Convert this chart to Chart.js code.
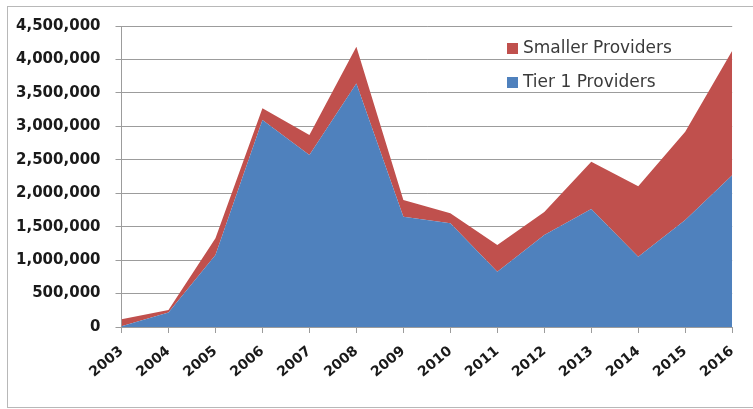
<!DOCTYPE html>
<html>
<head>
<meta charset="utf-8">
<script src="https://cdn.jsdelivr.net/npm/chart.js@4/dist/chart.umd.min.js"></script>
<style>
  html, body { margin: 0; padding: 0; background: #ffffff; }
  #wrap { position: relative; width: 753px; height: 409px; overflow: hidden; }
  #frame {
    position: absolute; left: 7px; top: 6px; width: 760px; height: 400px;
    border: 1px solid #b8b8b8; border-right: none; box-sizing: content-box;
  }
  #c { position: absolute; left: 0; top: 0; }
</style>
</head>
<body>
<div id="wrap">
  <div id="frame"></div>
  <canvas id="c" width="753" height="409"></canvas>
</div>
<script>
// Yearly figures by provider type
const years = ['2003','2004','2005','2006','2007','2008','2009','2010','2011','2012','2013','2014','2015','2016'];
const tier1Providers   = [10000, 215000, 1075000, 3095000, 2570000, 3640000, 1650000, 1550000, 825000, 1375000, 1765000, 1050000, 1600000, 2270000];
const smallerProviders = [105000, 40000, 250000, 175000, 300000, 550000, 250000, 150000, 400000, 345000, 705000, 1055000, 1320000, 1860000];
const yTickValues = [0, 500000, 1000000, 1500000, 2000000, 2500000, 3000000, 3500000, 4000000, 4500000];

const BLUE = '#4F81BD';
const RED = '#C0504D';
const GRID = '#9c9c9c';

// Legend drawn inside the plot, top stacked series first
const insideLegend = {
  id: 'insideLegend',
  afterDraw(chart) {
    const ctx = chart.ctx;
    const items = chart.data.datasets.slice().reverse();
    ctx.save();
    ctx.font = '17px "DejaVu Sans"';
    ctx.textBaseline = 'middle';
    ctx.textAlign = 'left';
    items.forEach((ds, i) => {
      const y = 48 + i * 34;
      ctx.fillStyle = ds.backgroundColor;
      ctx.fillRect(507, y - 5, 11, 11);
      ctx.fillStyle = '#3a3a3a';
      ctx.fillText(ds.label, 523, y + 1);
    });
    ctx.restore();
  }
};

new Chart(document.getElementById('c'), {
  type: 'line',
  data: {
    labels: years,
    datasets: [
      {
        label: 'Tier 1 Providers',
        data: tier1Providers,
        backgroundColor: BLUE,
        borderColor: BLUE,
        borderWidth: 0,
        pointRadius: 0,
        fill: 'origin',
        tension: 0
      },
      {
        label: 'Smaller Providers',
        data: smallerProviders,
        backgroundColor: RED,
        borderColor: RED,
        borderWidth: 0,
        pointRadius: 0,
        fill: '-1',
        tension: 0
      }
    ]
  },
  options: {
    responsive: false,
    devicePixelRatio: 1,
    animation: false,
    events: [],
    layout: { padding: { left: 0, top: 26, right: 20.5, bottom: 0 } },
    plugins: {
      legend: { display: false },
      tooltip: { enabled: false },
      filler: { propagate: false }
    },
    scales: {
      x: {
        offset: false,
        afterFit(scale) { scale.height = 82; },
        grid: {
          display: true,
          drawOnChartArea: false,
          drawTicks: true,
          tickLength: 6,
          color: GRID
        },
        border: { display: true, color: GRID },
        ticks: {
          autoSkip: false,
          minRotation: 40,
          maxRotation: 40,
          padding: 10,
          color: '#1a1a1a',
          font: { family: '"DejaVu Sans"', size: 14, weight: 'bold' }
        }
      },
      y: {
        stacked: true,
        min: 0,
        max: 4500000,
        afterFit(scale) { scale.width = 121.5; },
        afterBuildTicks(scale) { scale.ticks = yTickValues.map(v => ({ value: v })); },
        grid: {
          color: GRID,
          drawTicks: true,
          tickLength: 6
        },
        border: { display: true, color: GRID },
        ticks: {
          padding: 15,
          color: '#1a1a1a',
          font: { family: '"DejaVu Sans"', size: 15, weight: 'bold' },
          callback: v => Number(v).toLocaleString('en-US')
        }
      }
    }
  },
  plugins: [insideLegend]
});
</script>
</body>
</html>
